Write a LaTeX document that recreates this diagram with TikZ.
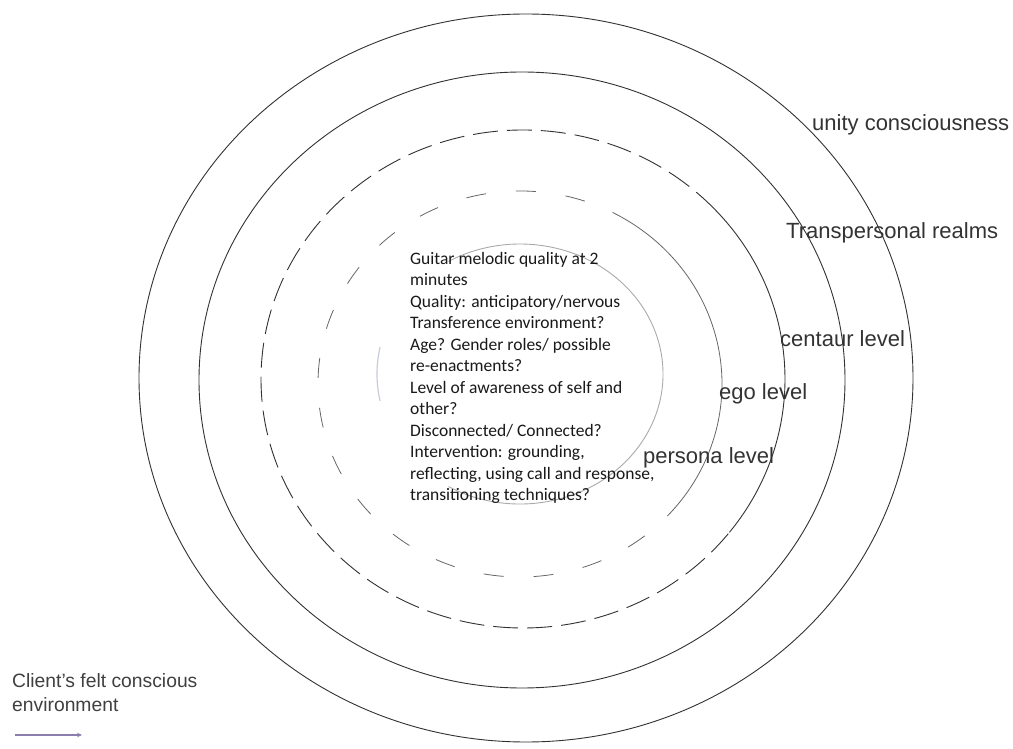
\documentclass[tikz,border=0pt]{standalone}
\usepackage{fontspec}
\setmainfont{Liberation Sans}
\newfontfamily\calfont{Carlito}
\usetikzlibrary{arrows.meta}
\definecolor{arrowc}{RGB}{140,125,175}
\definecolor{ringc}{RGB}{50,50,50}
\definecolor{innerc}{RGB}{170,170,170}
\definecolor{fadec}{RGB}{200,205,220}
\begin{document}
\begin{tikzpicture}[x=1pt,y=1pt,
  ring/.style={line width=0.9pt, draw=ringc},
  softring/.style={line width=0.8pt, draw=black!60},
  dashring/.style={line width=0.9pt, draw=ringc, dash pattern=on 25pt off 9pt},
  dotring/.style={line width=0.8pt, draw=black!60, dash pattern=on 20pt off 30pt},
  innerring/.style={line width=0.9pt, draw=innerc},
  lbl/.style={anchor=west, inner sep=0pt, font=\fontsize{22}{26}\selectfont, text=black!80},
  body/.style={anchor=north west, inner sep=0pt, align=left, font=\calfont\fontsize{17.5}{21.5}\selectfont, text=black!90},
  legend/.style={anchor=north west, inner sep=0pt, align=left, font=\fontsize{19.3}{24}\selectfont, text=black!75}]
\useasboundingbox (0,0) rectangle (1013,748);
\fill[white] (0,0) rectangle (1013,748);

% outer solid rings
\draw[ring] (526,370) ellipse [x radius=387, y radius=364];
\draw[ring] (522,368) ellipse [x radius=323, y radius=308];

% third ring: solid on the right, dashed elsewhere
\draw[ring] (523,369) ++(-38:262 and 249) arc[start angle=-38, end angle=43, x radius=262, y radius=249];
\draw[dashring] (523,369) ++(43:262 and 249) arc[start angle=43, end angle=322, x radius=262, y radius=249];

% fourth ring: solid on the right, sparse dashes elsewhere
\draw[softring] (520,364) ++(-38:202 and 193) arc[start angle=-38, end angle=57, x radius=202, y radius=193];
\draw[dotring] (520,364) ++(57:202 and 193) arc[start angle=57, end angle=322, x radius=202, y radius=193];

% innermost light ring
\draw[innerring] (520,374) ++(-120:143 and 130) arc[start angle=-120, end angle=120, x radius=143, y radius=130];
\draw[line width=1.2pt, draw=fadec] (520,374) ++(168:143 and 130) arc[start angle=168, end angle=192, x radius=143, y radius=130];

% labels
\node[lbl] (unity) at (812,623) {unity consciousness};
\node[lbl] (trans) at (786,515) {Transpersonal realms};
\node[lbl] (centaur) at (780,409) {centaur level};
\node[lbl] (ego) at (719,354) {ego level};
\node[lbl] (persona) at (643,290) {persona level};

\node[body] (notes) at (410,496) {Guitar melodic quality at 2\\
minutes\\
Quality: anticipatory/nervous\\
Transference environment?\\
Age? Gender roles/ possible\\
re-enactments?\\
Level of awareness of self and\\
other?\\
Disconnected/ Connected?\\
Intervention: grounding,\\
reflecting, using call and response,\\
transitioning techniques?};

\node[legend] (client) at (12,75) {Client's felt conscious\\environment};
\coordinate (ca) at (15,13);
\coordinate (cb) at (82,13);
\draw[-{Stealth[length=5pt,width=4.5pt]}, line width=1.6pt, draw=arrowc] (ca) -- (cb);
\end{tikzpicture}
\end{document}
